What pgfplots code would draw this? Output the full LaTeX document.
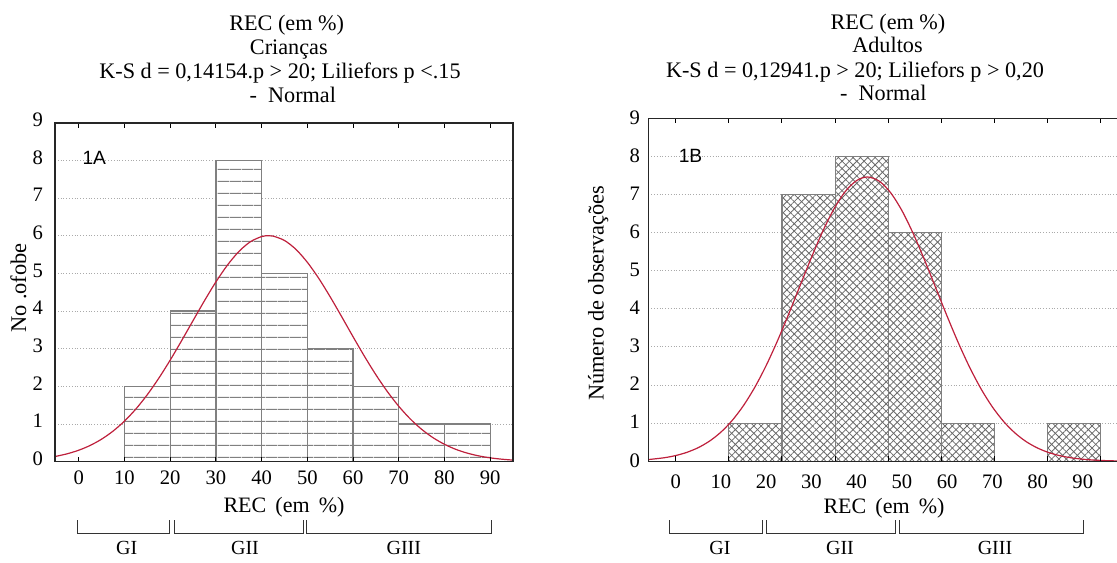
\documentclass[border=0pt]{standalone}
\usepackage{fontspec}
\setmainfont{Liberation Serif}
\newfontfamily\labelsans{Liberation Sans}
\usepackage{pgfplots}
\pgfplotsset{compat=1.18}
\usetikzlibrary{patterns.meta}

\definecolor{curvered}{RGB}{190,32,60}
\definecolor{bargray}{RGB}{128,128,128}
\definecolor{hatchgray}{RGB}{105,105,105}
\definecolor{gridgray}{RGB}{170,170,170}

% grid under the bars, axis lines over them
\pgfplotsset{
  layers/barsunder/.define layer set={axis background,axis grid,pre main,main,axis ticks,axis lines,axis tick labels,axis descriptions,axis foreground}{
    grid style={/pgfplots/on layer=axis grid},
    tick style={/pgfplots/on layer=axis ticks},
    axis line style={/pgfplots/on layer=axis lines},
    label style={/pgfplots/on layer=axis descriptions},
    title style={/pgfplots/on layer=axis descriptions},
    ticklabel style={/pgfplots/on layer=axis tick labels},
  },
  recbase/.style={
    set layers=barsunder,
    scale only axis,
    anchor=north west,
    ymin=0, ymax=9,
    ytick={0,...,9},
    ymajorgrids,
    grid style={densely dotted, gridgray, line width=0.5pt},
    axis line style={line width=0.8pt, black!85},
    ytick style={draw=none},
    xtick align=inside,
    x tick style={black, line width=0.5pt},
    major tick length=2.5pt,
    tick label style={font=\fontsize{10.3}{11}\selectfont},
    /pgf/number format/assume math mode=true,
    xticklabel style={anchor=base},
  },
}

\pgfplotstableread{
x y
10 2
20 4
30 8
40 5
50 3
60 2
70 1
80 1
90 1
}\criancas

\pgfplotstableread{
x y
11.75 1
23.5 7
35.25 8
47 6
58.75 1
70.5 0
82.25 1
94 1
}\adultos

\begin{document}
\begin{tikzpicture}

% ---- 1A: Criancas ----
\begin{axis}[recbase,
  at={(27.5pt,-61.35pt)}, width=229pt, height=169.5pt,
  xmin=-5.2, xmax=95, xtick={0,10,...,90},
  xticklabel style={yshift=-11.65pt},
  yticklabel style={xshift=-2.5pt, yshift=1.5pt}]
\addplot[ybar interval, draw=bargray, line width=0.6pt, fill=white,
  postaction={pattern={Lines[angle=0,distance=5.85pt,line width=0.5pt]}, pattern color=bargray}]
  table[x=x,y=y] {\criancas};
\addplot[curvered, line width=0.6pt, smooth] coordinates {
  (-5,0.142) (-2.5,0.211) (0,0.305) (2.5,0.432) (5,0.599) (7.5,0.812)
  (10,1.078) (12.5,1.400) (15,1.780) (17.5,2.215) (20,2.697) (22.5,3.213)
  (25,3.746) (27.5,4.274) (30,4.773) (32.5,5.215) (35,5.577) (37.5,5.836)
  (40,5.977) (41.5,6.000) (42.5,5.990) (45,5.874) (47.5,5.638) (50,5.295)
  (52.5,4.867) (55,4.377) (57.5,3.853) (60,3.319) (62.5,2.798) (65,2.308)
  (67.5,1.863) (70,1.472) (72.5,1.138) (75,0.861) (77.5,0.637) (80,0.462)
  (82.5,0.327) (85,0.227) (87.5,0.154) (90,0.102) (92.5,0.067) (95,0.042)
};
\end{axis}

% ---- 1B: Adultos ----
\begin{axis}[recbase,
  at={(324.15pt,-59.15pt)}, width=239.85pt, height=171.5pt,
  xmin=-6.05, xmax=100,
  xtick={0,11.75,23.5,35.25,47,58.75,70.5,82.25,94}, xticklabels={},
  extra x ticks={0,10,20,30,40,50,60,70,80,90},
  extra x tick labels={0,10,20,30,40,50,60,70,80,90},
  extra x tick style={major tick length=0pt},
  xticklabel style={yshift=-13.55pt},
  yticklabel style={xshift=-0.7pt, yshift=0.5pt}]
\addplot[ybar interval, draw=bargray, line width=0.6pt, fill=white,
  postaction={pattern={Lines[angle=45,distance=2.6pt,line width=0.4pt]}, pattern color=hatchgray},
  postaction={pattern={Lines[angle=-45,distance=2.6pt,line width=0.4pt]}, pattern color=hatchgray}]
  table[x=x,y=y] {\adultos};
\addplot[curvered, line width=0.6pt, smooth] coordinates {
  (-6,0.046) (-2.5,0.094) (0,0.151) (2.5,0.236) (5,0.359) (7.5,0.531)
  (10,0.765) (12.5,1.073) (15,1.464) (17.5,1.944) (20,2.512) (22.5,3.160)
  (25,3.868) (27.5,4.609) (30,5.344) (32.5,6.032) (35,6.624) (37.5,7.081)
  (40,7.367) (42.4,7.460) (45,7.351) (47.5,7.051) (50,6.582) (52.5,5.979)
  (55,5.287) (57.5,4.549) (60,3.810) (62.5,3.105) (65,2.464) (67.5,1.902)
  (70,1.429) (72.5,1.045) (75,0.744) (77.5,0.515) (80,0.348) (82.5,0.228)
  (85,0.146) (87.5,0.090) (90,0.055) (92.5,0.032) (95,0.018) (97.5,0.010)
  (100,0.006)
};
\end{axis}

% ---- texts and group brackets, in pixel units of the reference ----
\begin{scope}[x=0.5pt, y=-0.5pt]
  \begin{scope}[font=\fontsize{11.1}{12}\selectfont]
    \node[anchor=base] at (286.7,30.7) {REC (em \%)};
    \node[anchor=base] at (288.8,54) {Crianças};
    \node[anchor=base] at (280,78.3) {K-S d = 0,14154.p > 20; Liliefors p <.15};
    \node[anchor=base] at (292.8,102.3) {- \ Normal};
    \node[anchor=base] at (888,29.3) {REC (em \%)};
    \node[anchor=base] at (887.5,52.7) {Adultos};
    \node[anchor=base] at (855,77.3) {K-S d = 0,12941.p > 20; Liliefors p > 0,20};
    \node[anchor=base] at (883.3,100) {- \ Normal};
  \end{scope}
  \begin{scope}[font=\fontsize{11}{12}\selectfont]
    \node[anchor=base] at (284,512.7) {REC \,(em \,\%)};
    \node[anchor=base] at (884,513.3) {REC \,(em \,\%)};
  \end{scope}
  \begin{scope}[font=\fontsize{11.2}{12}\selectfont]
    \node[rotate=90] at (18.3,288) {No .ofobe};
    \node[rotate=90] at (598.3,293.3) {Número de observações};
  \end{scope}
  \begin{scope}[font=\fontsize{10}{12}\selectfont]
    \node at (126.7,548) {GI};
    \node at (245,548) {GII};
    \node at (403.8,548) {GIII};
    \node at (720,548) {GI};
    \node at (840,548) {GII};
    \node at (995,548) {GIII};
  \end{scope}
  \node[font=\labelsans\fontsize{9.6}{10}\selectfont] at (94.3,157.7) {1A};
  \node[font=\labelsans\fontsize{9.6}{10}\selectfont] at (690.5,155.7) {1B};
  \begin{scope}[line width=0.5pt, black!80]
    \draw (77.3,520) -- (77.3,533.3) -- (169.3,533.3) -- (169.3,520);
    \draw (174.3,520) -- (174.3,533.3) -- (303.3,533.3) -- (303.3,520);
    \draw (306,520) -- (306,533.3) -- (491,533.3) -- (491,520);
    \draw (669.3,520) -- (669.3,533.3) -- (762.3,533.3) -- (762.3,520);
    \draw (766.7,520) -- (766.7,533.3) -- (895.7,533.3) -- (895.7,520);
    \draw (899.3,520) -- (899.3,533.3) -- (1083.3,533.3) -- (1083.3,520);
  \end{scope}
\end{scope}

\pgfresetboundingbox
\path[use as bounding box] (0,0) rectangle (558.5pt,-281pt);
\end{tikzpicture}
\end{document}
